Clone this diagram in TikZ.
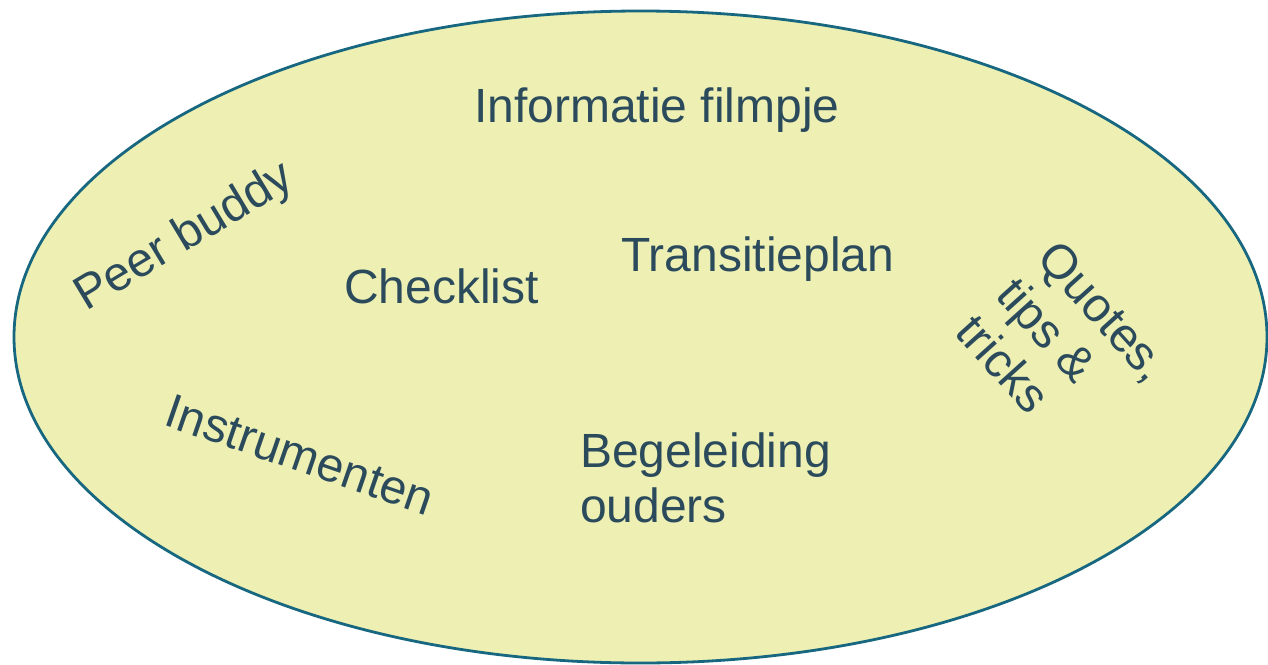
\documentclass[tikz,border=0pt]{standalone}
\usepackage{fontspec}
\setmainfont{Liberation Sans}
\definecolor{fillc}{HTML}{EDEFB3}
\definecolor{linec}{HTML}{16677F}
\definecolor{txtc}{HTML}{2B4A5C}
\begin{document}
\begin{tikzpicture}[x=1pt,y=-1pt,
  lbl/.style={inner sep=0pt, text=txtc, font=\fontsize{48}{55}\selectfont}]
\useasboundingbox (0,0) rectangle (1268,664);
\draw[linec, line width=2.8pt, fill=fillc] (640.5,337) ellipse [x radius=626.5, y radius=326];
\node[lbl, anchor=base west] (info) at (474,122) {Informatie filmpje};
\node[lbl, anchor=base west] (trans) at (621,271) {Transitieplan};
\node[lbl, anchor=base west] (check) at (344,303) {Checklist};
\node[lbl, anchor=base west, align=left] (beg) at (580,522) {Begeleiding\\ouders};
\node[lbl, rotate=31] (peer) at (185,238) {Peer buddy};
\node[lbl, rotate=-19] (instr) at (300,455) {Instrumenten};
\node[lbl, rotate=-48, align=left] (quotes) at (1063,348) {Quotes,\\tips \&\\tricks};
\end{tikzpicture}
\end{document}
